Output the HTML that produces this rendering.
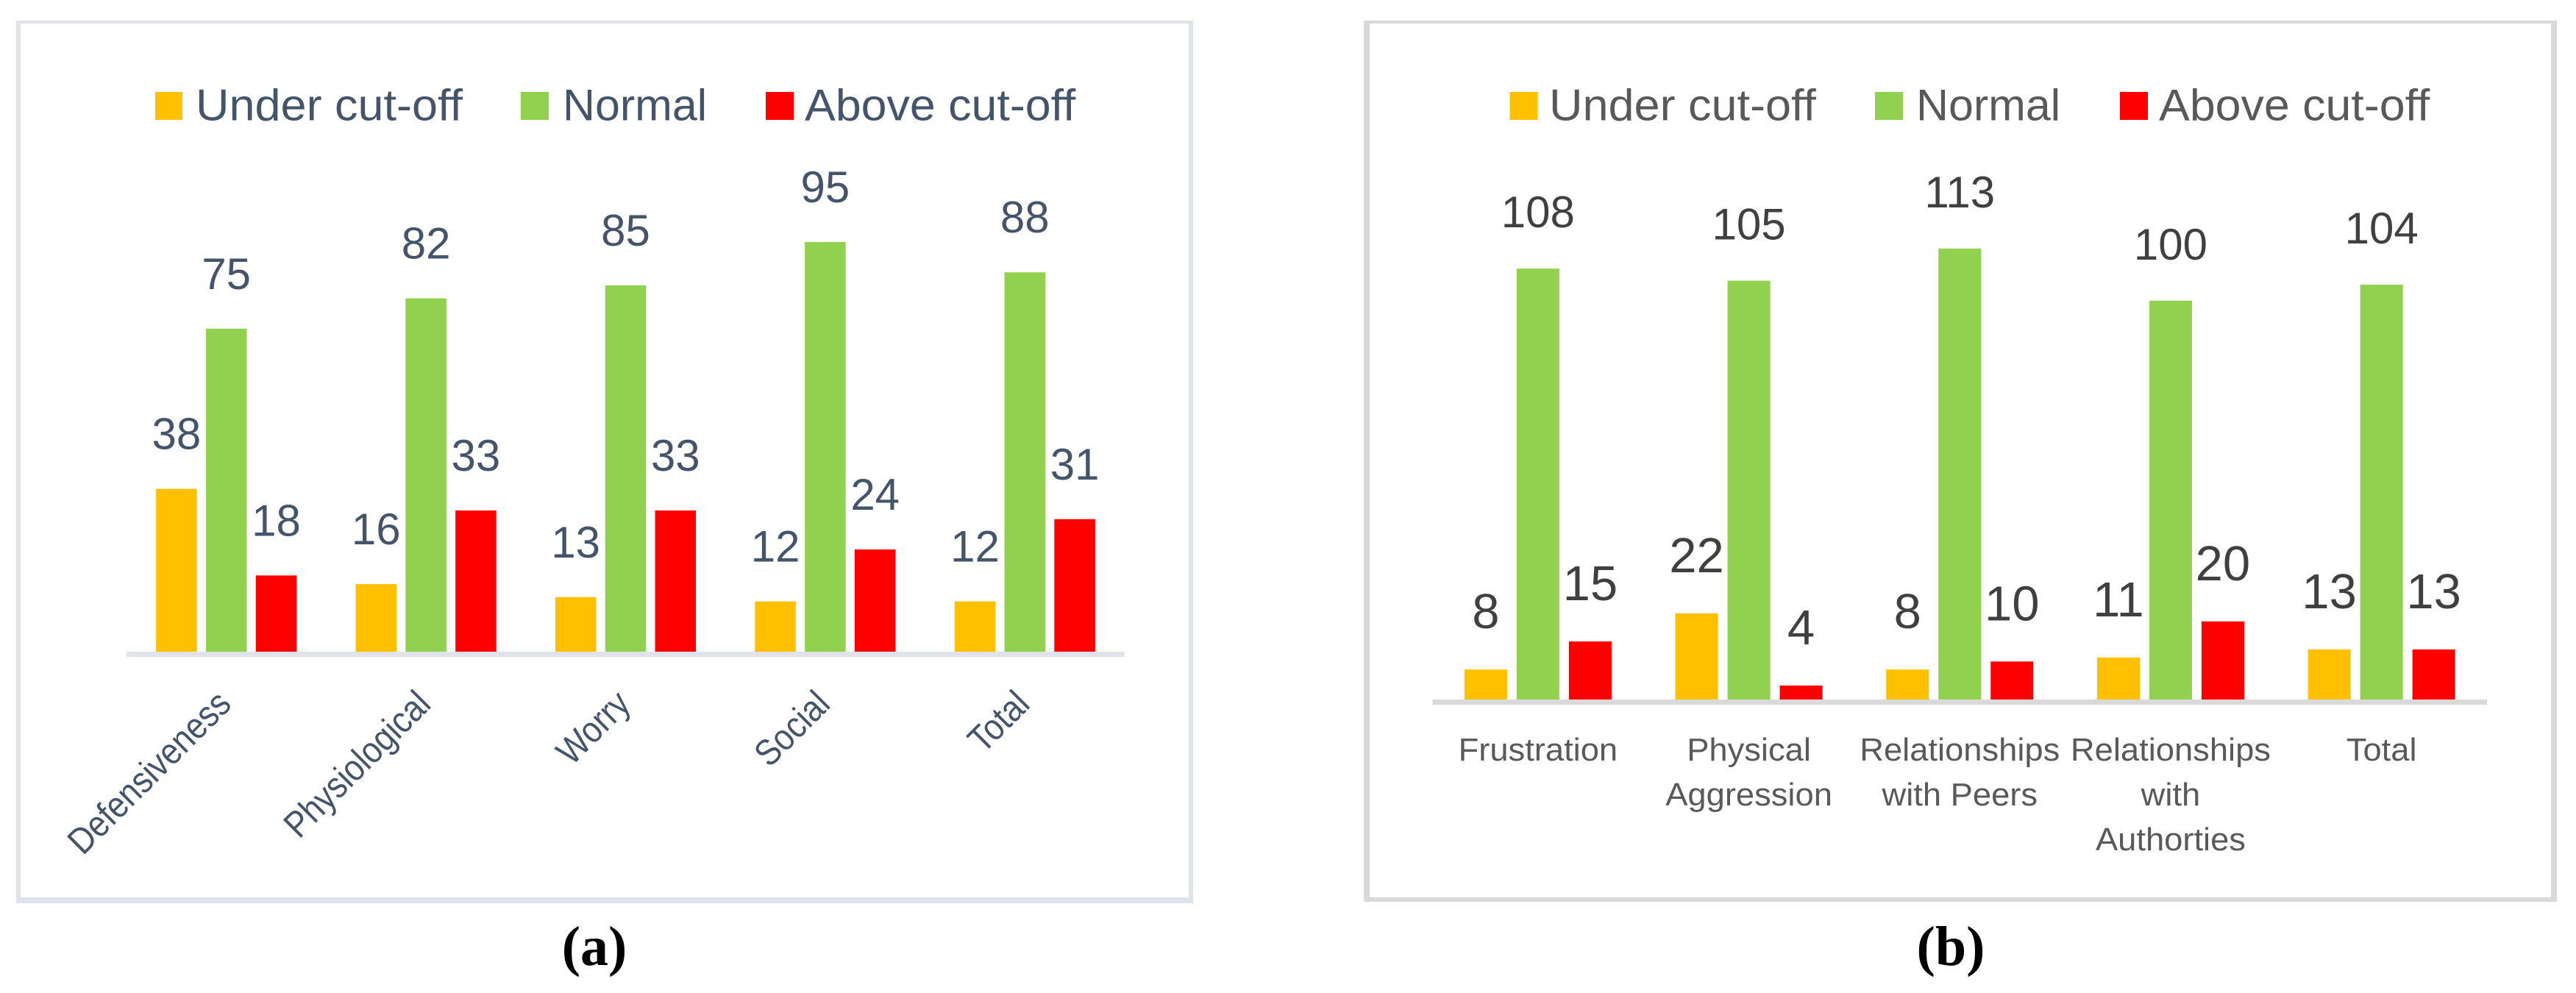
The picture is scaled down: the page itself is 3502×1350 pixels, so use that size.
<!DOCTYPE html>
<html lang="en">
<head>
<meta charset="utf-8">
<title>Under cut-off, Normal and Above cut-off counts</title>
<style>
html,body{margin:0;padding:0;background:#fff;}
svg{display:block;}
text{font-family:"Liberation Sans",sans-serif;}
.caption{font-family:"Liberation Serif",serif;font-weight:bold;font-size:76px;fill:#000;text-anchor:middle;}
.leg-a{font-size:60px;fill:#44546a;}
.leg-b{font-size:60px;fill:#595959;}
</style>
</head>
<body>
<svg id="figure" xmlns="http://www.w3.org/2000/svg" width="3502" height="1350" viewBox="0 0 3502 1350">
  <rect width="3502" height="1350" fill="#ffffff"/>

  <g id="panel-a">
    <rect x="22" y="28" width="1600" height="1200" fill="#e0e4ea"/>
    <rect x="28" y="32" width="1588" height="1188" fill="#ffffff"/>
    <g>
      <rect x="211" y="125" width="37" height="38" fill="#ffc000"/>
      <text class="leg-a" transform="translate(266,163.5) scale(1.05,1)">Under cut-off</text>
      <rect x="708" y="125" width="38" height="38" fill="#92d050"/>
      <text class="leg-a" transform="translate(765,163.5) scale(1.015,1)">Normal</text>
      <rect x="1041" y="125" width="38" height="38" fill="#ff0000"/>
      <text class="leg-a" transform="translate(1094,163.5) scale(1.045,1)">Above cut-off</text>
    </g>
  </g>

  <g id="panel-b">
    <rect x="1854" y="28" width="1622" height="1198" fill="#d9d9d9"/>
    <rect x="1862" y="32" width="1606" height="1188" fill="#ffffff"/>
    <g>
      <rect x="2052.5" y="125" width="38" height="38" fill="#ffc000"/>
      <text class="leg-b" transform="translate(2106,163.5) scale(1.05,1)">Under cut-off</text>
      <rect x="2549" y="125" width="38" height="38" fill="#92d050"/>
      <text class="leg-b" transform="translate(2605,163.5) scale(1.015,1)">Normal</text>
      <rect x="2882" y="125" width="38" height="38" fill="#ff0000"/>
      <text class="leg-b" transform="translate(2935,163.5) scale(1.045,1)">Above cut-off</text>
    </g>
  </g>

  <text class="caption" x="808" y="1312">(a)</text>
  <text class="caption" x="2652" y="1312">(b)</text>
</svg>

<script>
var categoriesA = ['Defensiveness', 'Physiological', 'Worry', 'Social', 'Total'];
var underA = [38, 16, 13, 12, 12];
var normalA = [75, 82, 85, 95, 88];
var aboveA = [18, 33, 33, 24, 31];

var categoriesB = [['Frustration'], ['Physical', 'Aggression'], ['Relationships', 'with Peers'], ['Relationships', 'with', 'Authorties'], ['Total']];
var underB = [8, 22, 8, 11, 13];
var normalB = [108, 105, 113, 100, 104];
var aboveB = [15, 4, 10, 20, 13];

var seriesNames = ['under', 'normal', 'above'];
var seriesColors = ['#ffc000', '#92d050', '#ff0000'];
var NS = 'http://www.w3.org/2000/svg';

function svgEl(tag, parent, attrs) {
  var el = document.createElementNS(NS, tag);
  for (var k in attrs) { el.setAttribute(k, attrs[k]); }
  parent.appendChild(el);
  return el;
}

function drawPanel(panelId, opt, series, categories) {
  var parent = document.getElementById(panelId);
  var bandW = (opt.axisX2 - opt.axisX1) / categories.length;
  function xCenter(i) { return opt.axisX1 + bandW * (i + 0.5); }
  function xBar(i, s) { return xCenter(i) + (s - 1) * opt.pitch - opt.barW / 2; }
  function yVal(v) { return opt.base - v * opt.unit; }

  series.forEach(function (vals, s) {
    vals.forEach(function (v, i) {
      var bar = svgEl('rect', parent, {
        x: xBar(i, s), y: yVal(v), width: opt.barW, height: v * opt.unit, fill: seriesColors[s]
      });
      
      
      var size = opt.labelSize[s];
      var lab = svgEl('text', parent, {
        x: xBar(i, s) + opt.barW / 2, y: yVal(v) - opt.labelGap,
        'text-anchor': 'middle', 'font-size': size, fill: opt.labelColor
      });
      lab.textContent = v;
      
      
    });
  });

  var axis = svgEl('rect', parent, {
    x: opt.axisX1, y: opt.axisY, width: opt.axisX2 - opt.axisX1, height: 7, fill: opt.axisColor
  });
  
  

  categories.forEach(function (cat, i) {
    var lines = Array.isArray(cat) ? cat : [cat];
    lines.forEach(function (line, n) {
      var tick;
      if (opt.rotate) {
        tick = svgEl('text', parent, {
          'text-anchor': 'end', 'font-size': opt.tickSize, fill: opt.tickColor,
          transform: 'translate(' + (xCenter(i) + opt.tickDx) + ',' + opt.tickY + ') rotate(' + opt.rotate + ') scale(' + opt.tickScale + ',1)'
        });
      } else {
        tick = svgEl('text', parent, {
          'text-anchor': 'middle', 'font-size': opt.tickSize, fill: opt.tickColor,
          transform: 'translate(' + xCenter(i) + ',' + (opt.tickY + n * opt.tickLine) + ') scale(' + opt.tickScale + ',1)'
        });
      }
      tick.textContent = line;
      
      
    });
  });
}

drawPanel('panel-a', {
  axisX1: 172, axisX2: 1529, axisY: 886, axisColor: '#e0e4ea',
  base: 888.3, unit: 5.887, barW: 55.5, pitch: 67.8,
  labelGap: 54, labelSize: [60, 60, 60], labelColor: '#44546a',
  tickSize: 50, tickColor: '#44546a', rotate: -45, tickDx: 9, tickY: 960, tickScale: 0.88
}, [underA, normalA, aboveA], categoriesA);

drawPanel('panel-b', {
  axisX1: 1947.5, axisX2: 3381, axisY: 951, axisColor: '#d9d9d9',
  base: 953.8, unit: 5.45, barW: 58, pitch: 71,
  labelGap: 56, labelSize: [67, 60, 67], labelColor: '#404040',
  tickSize: 44, tickColor: '#595959', tickScale: 1.03, tickY: 1034, tickLine: 61
}, [underB, normalB, aboveB], categoriesB);
</script>
</body>
</html>
